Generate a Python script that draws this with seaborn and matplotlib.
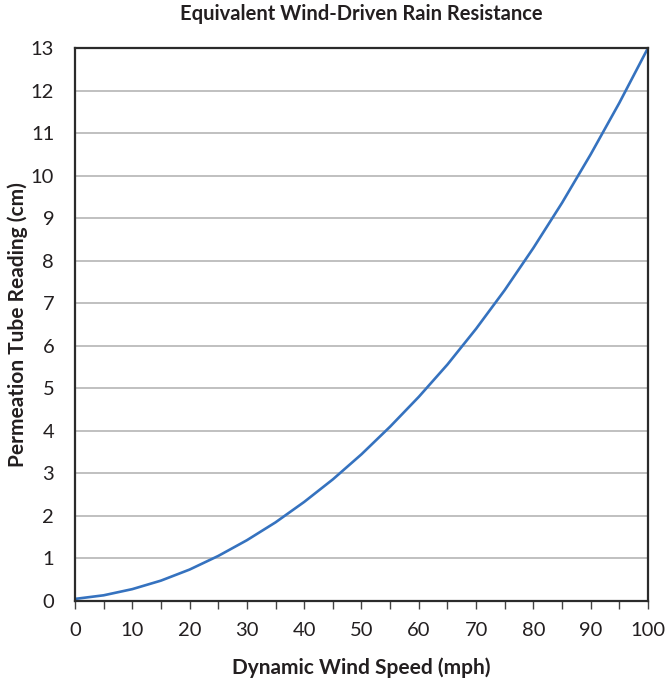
import numpy as np
import pandas as pd
import matplotlib
matplotlib.use("Agg")
import matplotlib.pyplot as plt
import seaborn as sns

# readings taken off the reference curve
wind_speed = [0, 5, 10, 15, 20, 25, 30, 35, 40, 45, 50,
              55, 60, 65, 70, 75, 80, 85, 90, 95, 100]
tube_reading = [0.05, 0.135, 0.28, 0.48, 0.74, 1.06, 1.43, 1.85, 2.33, 2.86, 3.45,
                4.10, 4.80, 5.56, 6.40, 7.31, 8.30, 9.36, 10.50, 11.71, 13.0]
x_labels = [0, 10, 20, 30, 40, 50, 60, 70, 80, 90, 100]
y_labels = list(range(0, 14))

df = pd.DataFrame({"speed": wind_speed, "reading": tube_reading})

sns.set_theme(style="white")
plt.rcParams['font.family'] = ['Lato', 'DejaVu Sans']
plt.rcParams['text.color'] = '#231f20'
plt.rcParams['axes.labelcolor'] = '#231f20'

fig = plt.figure(figsize=(6.65, 6.83), dpi=100)
ax = fig.add_axes([0.1128, 0.120, 0.8616, 0.8097])

sns.lineplot(data=df, x="speed", y="reading", ax=ax, color="#3572bf", linewidth=1.9)

ax.set_xlim(0, 100)
ax.set_ylim(0, 13)
ax.set_xticks(x_labels)
ax.set_xticklabels([str(v) for v in x_labels])
ax.set_xticks(np.arange(5, 100, 10), minor=True)
ax.set_yticks(y_labels)
ax.set_yticklabels([str(v) for v in y_labels])

ax.yaxis.grid(True, color="#b5b5b5", linewidth=1.2)
ax.set_axisbelow(True)
for s in ax.spines.values():
    s.set_color("#2b2b2b")
    s.set_linewidth(1.6)

ax.tick_params(axis='x', which='both', bottom=True, direction='out', length=6,
               width=1.0, color="#444444", labelsize=14.5, pad=9, labelcolor='#231f20')
ax.tick_params(axis='y', left=False, length=0, labelsize=14.5, pad=15, labelcolor='#231f20')

ax.set_xlabel("Dynamic Wind Speed (mph)", fontsize=15, fontweight='bold', labelpad=13)
ax.set_ylabel("Permeation Tube Reading (cm)", fontsize=15, fontweight='bold', labelpad=2)
ax.set_title("Equivalent Wind-Driven Rain Resistance", fontsize=14.5, fontweight='bold', pad=20)

fig.savefig("out.png", dpi=100)
plt.close(fig)
